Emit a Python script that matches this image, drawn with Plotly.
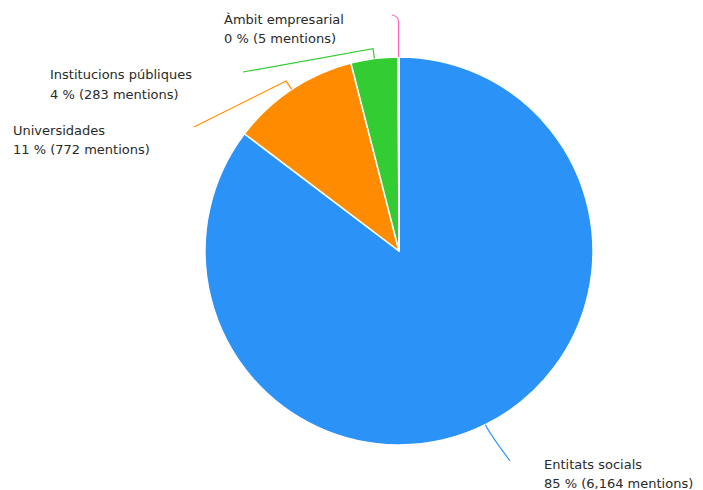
import math
import plotly.graph_objects as go

# ---- data ----
categories = ["Entitats socials", "Universidades", "Institucions públiques", "Àmbit empresarial"]
mentions = [6164, 772, 283, 5]
colors = ["#2b93f7", "#ff8c00", "#33cc33", "#ff66bb"]

# label text lines (as shown in the reference)
label_line1 = ["Entitats socials", "Universidades", "Institucions públiques", "Àmbit empresarial"]
label_line2 = ["85 % (6,164 mentions)", "11 % (772 mentions)", "4 % (283 mentions)", "0 % (5 mentions)"]

OFF = 8                      # page body margin in the browser
W, H = 703 - OFF, 490 - OFF  # figure size so it fills the window
CX, CY, R = 399, 251, 194    # pie centre / radius in window pixels

# layout constants: label block left x and first-line centre y (window px)
label_pos = [(542, 464), (11, 130), (48, 75), (222, 19)]
LINE_GAP = 19
# connector end points (window px)
conn_end = [(510, 461), (194, 127), (243, 72), (392, 15)]


def px(x):
    return (x - OFF) / W


def py(y):
    return 1 - (y - OFF) / H


fig = go.Figure(
    go.Pie(
        labels=categories,
        values=mentions,
        sort=False,
        direction="clockwise",
        rotation=0,
        marker=dict(colors=colors, line=dict(color="white", width=1.5)),
        textinfo="none",
        hoverinfo="label+value+percent",
        domain=dict(x=[px(CX - R), px(CX + R)], y=[py(CY + R), py(CY - R)]),
    )
)

# connectors computed from the slice mid-angles
total = sum(mentions)
cum = 0
shapes = []
for i, v in enumerate(mentions):
    mid = (cum + v / 2) / total * 2 * math.pi
    cum += v
    sx, sy = CX + R * math.sin(mid), CY - R * math.cos(mid)
    kx, ky = CX + (R + 10) * math.sin(mid), CY - (R + 10) * math.cos(mid)
    ex, ey = conn_end[i]
    if i == 0:
        path = f"M {px(sx)},{py(sy)} Q {px(kx)},{py(ky)} {px(ex)},{py(ey)}"
    elif i == 3:
        path = (f"M {px(sx)},{py(sy)} L {px(sx)},{py(22)} "
                f"Q {px(sx)},{py(16)} {px(ex)},{py(ey)}")
    else:
        path = f"M {px(sx)},{py(sy)} L {px(kx)},{py(ky)} L {px(ex)},{py(ey)}"
    shapes.append(dict(type="path", xref="paper", yref="paper", path=path,
                       line=dict(color=colors[i], width=1.2)))

annotations = []
font = dict(family="DejaVu Sans", size=13, color="#2a2a2a")
for l1, l2, (lx, ly) in zip(label_line1, label_line2, label_pos):
    for k, t in enumerate((l1, l2)):
        annotations.append(dict(
            text=t, x=px(lx), y=py(ly + k * LINE_GAP), xref="paper", yref="paper",
            xanchor="left", yanchor="middle", align="left", showarrow=False,
            font=font,
        ))

fig.update_layout(
    width=W, height=H,
    margin=dict(l=0, r=0, t=0, b=0),
    paper_bgcolor="white",
    plot_bgcolor="white",
    showlegend=False,
    shapes=shapes,
    annotations=annotations,
)

fig.write_html("out.html")
